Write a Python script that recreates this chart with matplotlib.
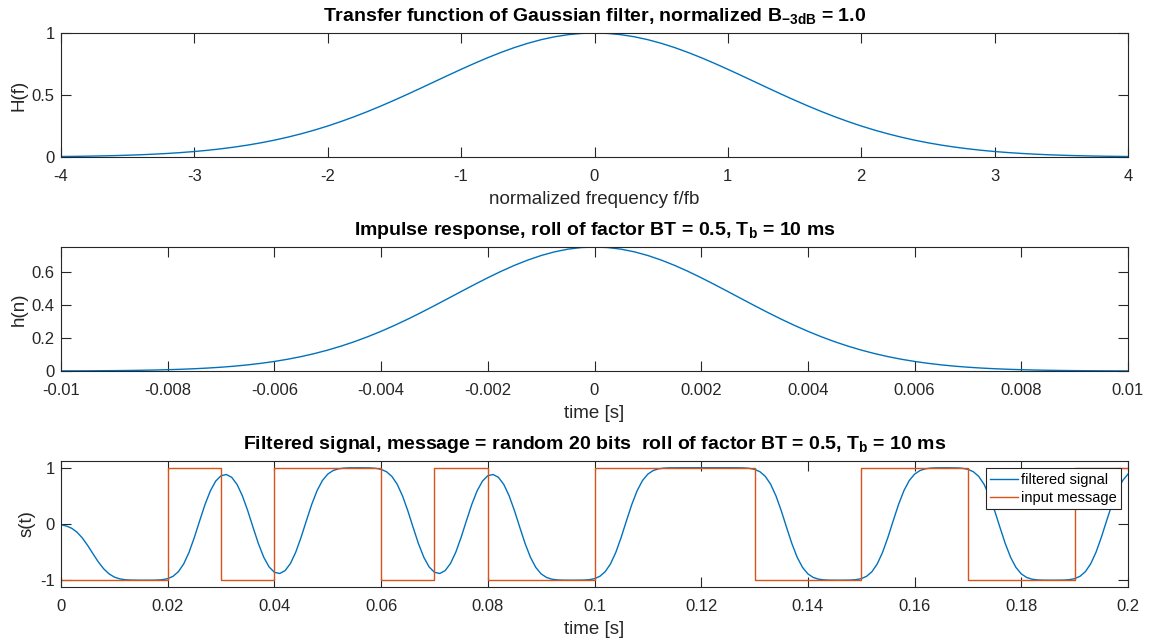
import numpy as np
import matplotlib
matplotlib.use("Agg")
import matplotlib.pyplot as plt
from matplotlib.ticker import FuncFormatter, FixedLocator

# ---------------- data ----------------
freq = np.linspace(-4, 4, 81)
H_vals = [0.0039, 0.0051, 0.0067, 0.0087, 0.0112, 0.0143, 0.0182, 0.0230, 0.0288, 0.0358,
          0.0442, 0.0542, 0.0661, 0.0800, 0.0961, 0.1146, 0.1358, 0.1599, 0.1869, 0.2169,
          0.25, 0.2862, 0.3254, 0.3673, 0.4118, 0.4585, 0.5070, 0.5567, 0.6071, 0.6575,
          0.7071, 0.7552, 0.8011, 0.8438, 0.8827, 0.9170, 0.9461, 0.9693, 0.9862, 0.9965,
          1.0,
          0.9965, 0.9862, 0.9693, 0.9461, 0.9170, 0.8827, 0.8438, 0.8011, 0.7552, 0.7071,
          0.6575, 0.6071, 0.5567, 0.5070, 0.4585, 0.4118, 0.3673, 0.3254, 0.2862, 0.25,
          0.2169, 0.1869, 0.1599, 0.1358, 0.1146, 0.0961, 0.0800, 0.0661, 0.0542, 0.0442,
          0.0358, 0.0288, 0.0230, 0.0182, 0.0143, 0.0112, 0.0087, 0.0067, 0.0051, 0.0039]

t_h = np.linspace(-0.01, 0.01, 81)
h_vals = [0.0006, 0.0009, 0.0012, 0.0017, 0.0023, 0.0032, 0.0044, 0.0059, 0.0079, 0.0104,
          0.0137, 0.0178, 0.0229, 0.0292, 0.0371, 0.0465, 0.0578, 0.0712, 0.0870, 0.1054,
          0.1265, 0.1505, 0.1774, 0.2073, 0.2401, 0.2756, 0.3135, 0.3536, 0.3952, 0.4378,
          0.4806, 0.5230, 0.5641, 0.6031, 0.6390, 0.6710, 0.6985, 0.7206, 0.7368, 0.7467,
          0.75,
          0.7467, 0.7368, 0.7206, 0.6985, 0.6710, 0.6390, 0.6031, 0.5641, 0.5230, 0.4806,
          0.4378, 0.3952, 0.3536, 0.3135, 0.2756, 0.2401, 0.2073, 0.1774, 0.1505, 0.1265,
          0.1054, 0.0870, 0.0712, 0.0578, 0.0465, 0.0371, 0.0292, 0.0229, 0.0178, 0.0137,
          0.0104, 0.0079, 0.0059, 0.0044, 0.0032, 0.0023, 0.0017, 0.0012, 0.0009, 0.0006]

filtered = [
    -0.0143, -0.0351, -0.0758, -0.1453, -0.2485, -0.3813, -0.5301, -0.6747, -0.7968, -0.8864,
    -0.9435, -0.9751, -0.9904, -0.9967, -0.9990, -0.9997, -0.9997, -0.9990, -0.9968, -0.9898,
    -0.9714, -0.9298, -0.8484, -0.7094, -0.5030, -0.2374, 0.0600, 0.3484, 0.5904, 0.7626,
    0.8584, 0.8800, 0.8292, 0.7028, 0.5010, 0.2368, -0.0602, -0.3484, -0.5904, -0.7626,
    -0.8584, -0.8800, -0.8292, -0.7028, -0.5010, -0.2368, 0.0604, 0.3494, 0.5936, 0.7728,
    0.8870, 0.9502, 0.9808, 0.9934, 0.9980, 0.9994, 0.9996, 0.9990, 0.9968, 0.9898,
    0.9714, 0.9298, 0.8484, 0.7094, 0.5030, 0.2374, -0.0600, -0.3484, -0.5904, -0.7626,
    -0.8584, -0.8800, -0.8292, -0.7028, -0.5010, -0.2368, 0.0602, 0.3484, 0.5904, 0.7626,
    0.8584, 0.8800, 0.8292, 0.7028, 0.5010, 0.2368, -0.0604, -0.3494, -0.5936, -0.7728,
    -0.8870, -0.9502, -0.9808, -0.9934, -0.9980, -0.9994, -0.9996, -0.9990, -0.9968, -0.9898,
    -0.9714, -0.9298, -0.8484, -0.7094, -0.5030, -0.2374, 0.0602, 0.3494, 0.5936, 0.7728,
    0.8870, 0.9502, 0.9808, 0.9934, 0.9980, 0.9994, 0.9998, 1.0, 1.0, 1.0,
    1.0, 1.0, 1.0, 1.0, 1.0, 1.0, 0.9998, 0.9990, 0.9968, 0.9898,
    0.9714, 0.9298, 0.8484, 0.7094, 0.5030, 0.2374, -0.0602, -0.3494, -0.5936, -0.7728,
    -0.8870, -0.9502, -0.9808, -0.9934, -0.9980, -0.9994, -0.9996, -0.9990, -0.9968, -0.9898,
    -0.9714, -0.9298, -0.8484, -0.7094, -0.5030, -0.2374, 0.0602, 0.3494, 0.5936, 0.7728,
    0.8870, 0.9502, 0.9808, 0.9934, 0.9980, 0.9994, 0.9996, 0.9990, 0.9968, 0.9898,
    0.9714, 0.9298, 0.8484, 0.7094, 0.5030, 0.2374, -0.0602, -0.3494, -0.5936, -0.7728,
    -0.8870, -0.9502, -0.9808, -0.9934, -0.9980, -0.9994, -0.9996, -0.9990, -0.9968, -0.9898,
    -0.9714, -0.9298, -0.8484, -0.7094, -0.5030, -0.2374, 0.0602, 0.3494, 0.5936, 0.7728,
    0.8870]
t_sig = np.linspace(0, 0.2, len(filtered))

message_bits = [-1, -1, 1, -1, 1, 1, -1, 1, -1, -1, 1, 1, 1, -1, -1, 1, 1, -1, -1, 1]
bit_edges = np.linspace(0, 0.2, len(message_bits) + 1)

freq_ticks = [-4, -3, -2, -1, 0, 1, 2, 3, 4]
H_yticks = [0, 0.5, 1]
h_xticks = [-0.01, -0.008, -0.006, -0.004, -0.002, 0, 0.002, 0.004, 0.006, 0.008, 0.01]
h_yticks = [0, 0.2, 0.4, 0.6]
s_xticks = [0, 0.02, 0.04, 0.06, 0.08, 0.1, 0.12, 0.14, 0.16, 0.18, 0.2]
s_yticks = [-1, 0, 1]

# ---------------- style ----------------
plt.rcParams['font.family'] = ['Liberation Sans', 'DejaVu Sans']
plt.rcParams['axes.unicode_minus'] = False
plt.rcParams['mathtext.fontset'] = 'custom'
plt.rcParams['mathtext.rm'] = 'Liberation Sans'
plt.rcParams['mathtext.bf'] = 'Liberation Sans:bold'

BLUE = '#0072BD'
ORANGE = '#D95319'
AX = '#262626'
TICK_FS = 12
LABEL_FS = 13.5
TITLE_FS = 14
TITLE_PAD = 8.5

fmt = FuncFormatter(lambda v, p: '%g' % v)

fig = plt.figure(figsize=(11.6, 6.42), dpi=100)
left = 61 / 1160
width = (1128 - 61) / 1160


def make_ax(top_px, bottom_px):
    ax = fig.add_axes([left, 1 - bottom_px / 642, width, (bottom_px - top_px) / 642])
    for sp in ax.spines.values():
        sp.set_color(AX)
        sp.set_linewidth(0.8)
    ax.tick_params(direction='in', top=True, right=True, length=7.5, width=0.8,
                   color=AX, labelcolor=AX, labelsize=TICK_FS)
    ax.tick_params(axis='x', pad=8.5)
    ax.tick_params(axis='y', pad=4.5)
    ax.xaxis.set_major_formatter(fmt)
    ax.yaxis.set_major_formatter(fmt)
    return ax


# Top: transfer function
ax1 = make_ax(33, 157)
ax1.plot(freq, H_vals, color=BLUE, lw=1.0)
ax1.set_xlim(-4, 4)
ax1.set_ylim(0, 1)
ax1.xaxis.set_major_locator(FixedLocator(freq_ticks))
ax1.yaxis.set_major_locator(FixedLocator(H_yticks))
ax1.set_xlabel('normalized frequency f/fb', fontsize=LABEL_FS, color=AX, labelpad=5.5)
ax1.set_ylabel('H(f)', fontsize=LABEL_FS, color=AX, labelpad=3)
ax1.set_title(r'Transfer function of Gaussian filter, normalized $\mathbf{B_{-3dB}}$ = 1.0',
              fontsize=TITLE_FS, fontweight='bold', color='black', pad=TITLE_PAD)

# Middle: impulse response
ax2 = make_ax(247, 371)
ax2.plot(t_h, h_vals, color=BLUE, lw=1.0)
ax2.set_xlim(-0.01, 0.01)
ax2.set_ylim(0, 0.75)
ax2.xaxis.set_major_locator(FixedLocator(h_xticks))
ax2.yaxis.set_major_locator(FixedLocator(h_yticks))
ax2.set_xlabel('time [s]', fontsize=LABEL_FS, color=AX, labelpad=5.5)
ax2.set_ylabel('h(n)', fontsize=LABEL_FS, color=AX, labelpad=3)
ax2.set_title(r'Impulse response, roll of factor BT = 0.5, $\mathbf{T_b}$ = 10 ms',
              fontsize=TITLE_FS, fontweight='bold', color='black', pad=TITLE_PAD)

# Bottom: filtered signal
ax3 = make_ax(461, 587)
ax3.plot(t_sig, filtered, color=BLUE, lw=1.0, label='filtered signal')
ax3.plot(bit_edges, message_bits + [message_bits[-1]], drawstyle='steps-post',
         color=ORANGE, lw=1.0, label='input message')
ax3.set_xlim(0, 0.2)
ax3.set_ylim(-1.12, 1.12)
ax3.xaxis.set_major_locator(FixedLocator(s_xticks))
ax3.yaxis.set_major_locator(FixedLocator(s_yticks))
ax3.set_xlabel('time [s]', fontsize=LABEL_FS, color=AX, labelpad=5.5)
ax3.set_ylabel('s(t)', fontsize=LABEL_FS, color=AX, labelpad=3)
ax3.set_title(r'Filtered signal, message = random 20 bits  roll of factor BT = 0.5, $\mathbf{T_b}$ = 10 ms',
              fontsize=TITLE_FS, fontweight='bold', color='black', pad=TITLE_PAD)
leg = ax3.legend(loc='upper right', fontsize=10.5, frameon=True, fancybox=False,
                 edgecolor=AX, framealpha=1, borderpad=0.3, labelspacing=0.3,
                 handlelength=1.9, handletextpad=0.2, borderaxespad=0.5)
leg.get_frame().set_linewidth(0.8)

fig.savefig('out.png', dpi=100)
